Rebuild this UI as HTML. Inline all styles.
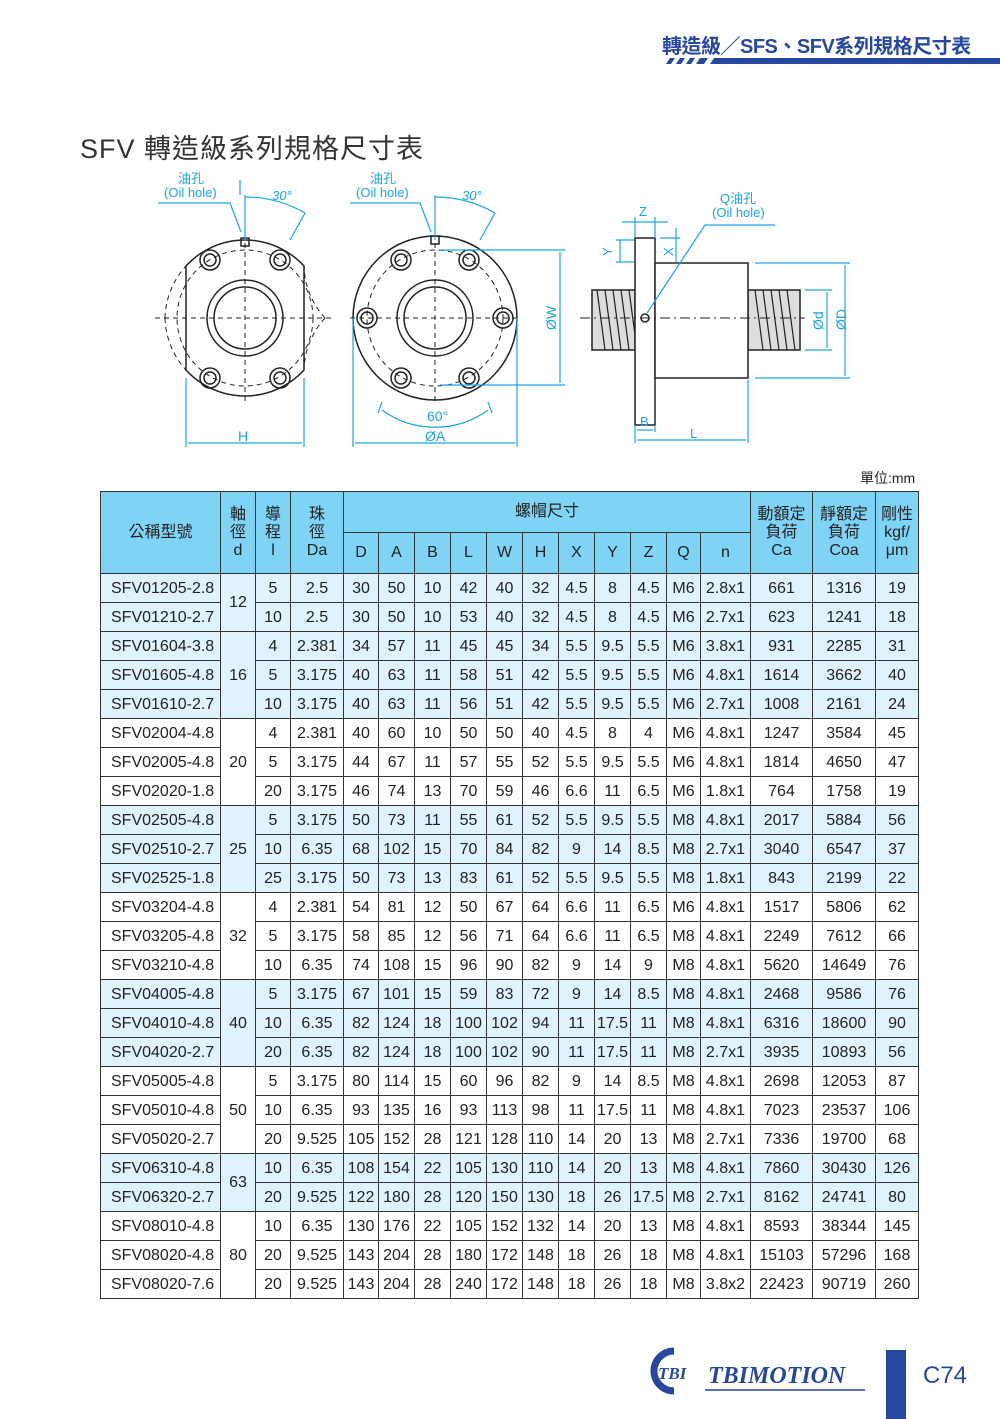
<!DOCTYPE html>
<html><head><meta charset="utf-8"><style>
body{margin:0;width:1000px;height:1419px;background:#fff;position:relative;overflow:hidden;font-family:"Liberation Sans","Noto Sans CJK TC",sans-serif;color:#222}
.abs{position:absolute}
table{position:absolute;left:100px;top:491px;border-collapse:collapse;table-layout:fixed;font-size:16px}
td{border:1.5px solid #333;text-align:center;padding:0;height:28px;line-height:27px;white-space:nowrap}
thead td{background:#7fd3f5;line-height:18px;height:40px}
tr.b td{background:#dff3fc}
td.m{text-align:left;padding-left:10px}
</style></head><body>
<div class="abs" style="left:662px;top:30px;font-size:20px;color:#2747a0;font-weight:bold;letter-spacing:-0.5px">轉造級／SFS、SFV系列規格尺寸表</div>
<svg class="abs" style="left:0;top:0" width="1000" height="70">
<g fill="#2747a0"><polygon points="666,64 670,58 675,58 671,64"/><polygon points="676,64 680,58 685,58 681,64"/><polygon points="686,64 690,58 695,58 691,64"/><polygon points="696,64 700,58 708,58 704,64"/><polygon points="710,64 714,58 1000,58 1000,64"/></g>
</svg>
<div class="abs" style="left:80px;top:127px;font-size:27px;color:#333;letter-spacing:1px">SFV 轉造級系列規格尺寸表</div>
<svg class="abs" style="left:0;top:160px" width="1000" height="300" viewBox="0 160 1000 300" font-family="Liberation Sans,Noto Sans CJK TC,sans-serif">
<g stroke="#222" fill="none" stroke-width="1.5">
<path d="M186,266 A80,80 0 0 1 304,266 L304,370 A80,80 0 0 1 186,370 Z" fill="#fff"/>
<circle cx="245" cy="318" r="38"/><circle cx="245" cy="318" r="31"/>
<g stroke-dasharray="5,4" stroke-width="1"><circle cx="245" cy="318" r="68"/><path d="M165,318 A80,80 0 0 0 186,370 M165,318 A80,80 0 0 1 186,266 M325,318 A80,80 0 0 0 304,370 M325,318 A80,80 0 0 1 304,266"/><line x1="155" y1="318" x2="335" y2="318"/><line x1="245" y1="225" x2="245" y2="405"/></g>
<g><circle cx="210" cy="260" r="10"/><circle cx="210" cy="260" r="6"/><circle cx="280" cy="260" r="10"/><circle cx="280" cy="260" r="6"/><circle cx="210" cy="378" r="10"/><circle cx="210" cy="378" r="6"/><circle cx="280" cy="378" r="10"/><circle cx="280" cy="378" r="6"/></g>
<rect x="241" y="238" width="8" height="8"/>
<circle cx="435" cy="318" r="82" fill="#fff"/>
<circle cx="435" cy="318" r="38"/><circle cx="435" cy="318" r="31"/>
<g stroke-dasharray="5,4" stroke-width="1"><circle cx="435" cy="318" r="68"/><line x1="350" y1="318" x2="520" y2="318"/><line x1="435" y1="225" x2="435" y2="405"/></g>
<circle cx="367" cy="318" r="10"/><circle cx="367" cy="318" r="6"/><circle cx="503" cy="318" r="10"/><circle cx="503" cy="318" r="6"/>
<circle cx="401" cy="260" r="10"/><circle cx="401" cy="260" r="6"/><circle cx="469" cy="260" r="10"/><circle cx="469" cy="260" r="6"/>
<circle cx="401" cy="378" r="10"/><circle cx="401" cy="378" r="6"/><circle cx="469" cy="378" r="10"/><circle cx="469" cy="378" r="6"/>
<rect x="431" y="236" width="8" height="8"/>
<rect x="592" y="290" width="43" height="60" fill="#ddd"/><rect x="748" y="290" width="52" height="60" fill="#ddd"/>
<g stroke-width="1.2"><path d="M597,290 l8,60 M605,290 l8,60 M613,290 l8,60 M621,290 l8,60 M629,290 l6,45 M755,290 l8,60 M763,290 l8,60 M771,290 l8,60 M779,290 l8,60 M787,290 l8,60"/></g>
<rect x="635" y="238" width="20" height="187" fill="#fff"/>
<rect x="655" y="263" width="93" height="115" fill="#fff"/>
<circle cx="645" cy="318" r="4"/>
<line x1="580" y1="318" x2="805" y2="318" stroke-dasharray="10,4,2,4" stroke-width="1"/>
</g>
<g stroke="#1aa6dd" fill="none" stroke-width="1.2">
<path d="M158,203 L230,203 L241,232"/><path d="M240,195 L240,180"/>
<line x1="245" y1="195" x2="245" y2="240"/><path d="M245,197 A120,120 0 0 1 305,213"/><line x1="305" y1="213" x2="290" y2="240"/>
<path d="M350,203 L420,203 L431,232"/><line x1="435" y1="195" x2="435" y2="240"/><path d="M435,197 A120,120 0 0 1 495,213"/><line x1="495" y1="213" x2="480" y2="240"/>
<path d="M382,410 A90,90 0 0 0 488,410"/><line x1="382" y1="402" x2="378" y2="413"/><line x1="488" y1="402" x2="492" y2="413"/>
<line x1="186" y1="378" x2="186" y2="447"/><line x1="304" y1="378" x2="304" y2="447"/><line x1="188" y1="443" x2="302" y2="443"/>
<line x1="353" y1="318" x2="353" y2="447"/><line x1="517" y1="318" x2="517" y2="447"/><line x1="355" y1="443" x2="515" y2="443"/>
<line x1="440" y1="250" x2="565" y2="250"/><line x1="440" y1="385" x2="565" y2="385"/><line x1="560" y1="252" x2="560" y2="383"/>
<path d="M775,225 L705,225 L647,313"/>
<line x1="622" y1="222" x2="668" y2="222"/><line x1="635" y1="217" x2="635" y2="238"/><line x1="655" y1="217" x2="655" y2="238"/>
<line x1="616" y1="240" x2="634" y2="240"/><line x1="616" y1="262" x2="634" y2="262"/><line x1="620" y1="240" x2="620" y2="262"/>
<line x1="676" y1="228" x2="676" y2="263"/><line x1="660" y1="238" x2="680" y2="238"/>
<line x1="755" y1="263" x2="850" y2="263"/><line x1="755" y1="378" x2="850" y2="378"/><line x1="845" y1="265" x2="845" y2="376"/>
<line x1="805" y1="290" x2="832" y2="290"/><line x1="805" y1="350" x2="832" y2="350"/><line x1="827" y1="292" x2="827" y2="348"/>
<line x1="635" y1="425" x2="635" y2="443"/><line x1="655" y1="425" x2="655" y2="432"/><line x1="637" y1="430" x2="653" y2="430"/>
<line x1="748" y1="380" x2="748" y2="443"/><line x1="637" y1="440" x2="746" y2="440"/>
</g>
<g fill="#1aa6dd" font-size="13">
<text x="178" y="183">油孔</text><text x="164" y="197">(Oil hole)</text><text x="272" y="200" font-style="italic">30°</text>
<text x="370" y="183">油孔</text><text x="356" y="197">(Oil hole)</text><text x="462" y="200" font-style="italic">30°</text>
<text x="427" y="421" font-size="14">60°</text><text x="425" y="441" font-size="14">ØA</text><text x="238" y="441" font-size="14">H</text>
<text x="0" y="0" font-size="14" transform="translate(556,330) rotate(-90)">ØW</text>
<text x="720" y="203">Q油孔</text><text x="712" y="217">(Oil hole)</text>
<text x="639" y="216">Z</text><text x="0" y="0" transform="translate(612,256) rotate(-90)">Y</text><text x="0" y="0" transform="translate(673,256) rotate(-90)">X</text>
<text x="0" y="0" transform="translate(823,330) rotate(-90)" font-size="14">Ød</text><text x="0" y="0" transform="translate(846,330) rotate(-90)" font-size="14">ØD</text>
<text x="640" y="426">B</text><text x="690" y="438">L</text>
</g>
</svg>
<div class="abs" style="left:860px;top:468px;font-size:14px">單位:mm</div>
<table>
<colgroup><col style="width:120px"><col style="width:35px"><col style="width:35px"><col style="width:53px"><col style="width:35px"><col style="width:36px"><col style="width:36px"><col style="width:36px"><col style="width:36px"><col style="width:36px"><col style="width:36px"><col style="width:36px"><col style="width:36px"><col style="width:34px"><col style="width:50px"><col style="width:62px"><col style="width:63px"><col style="width:43px"></colgroup>
<thead>
<tr><td rowspan="2">公稱型號</td><td rowspan="2">軸<br>徑<br>d</td><td rowspan="2">導<br>程<br>l</td><td rowspan="2">珠<br>徑<br>Da</td><td colspan="11">螺帽尺寸</td><td rowspan="2">動額定<br>負荷<br>Ca</td><td rowspan="2">靜額定<br>負荷<br>Coa</td><td rowspan="2">剛性<br>kgf/<br>μm</td></tr>
<tr><td>D</td><td>A</td><td>B</td><td>L</td><td>W</td><td>H</td><td>X</td><td>Y</td><td>Z</td><td>Q</td><td>n</td></tr>
</thead>
<tbody>
<tr class="b"><td class="m">SFV01205-2.8</td><td rowspan="2">12</td><td>5</td><td>2.5</td><td>30</td><td>50</td><td>10</td><td>42</td><td>40</td><td>32</td><td>4.5</td><td>8</td><td>4.5</td><td>M6</td><td>2.8x1</td><td>661</td><td>1316</td><td>19</td></tr>
<tr class="b"><td class="m">SFV01210-2.7</td><td>10</td><td>2.5</td><td>30</td><td>50</td><td>10</td><td>53</td><td>40</td><td>32</td><td>4.5</td><td>8</td><td>4.5</td><td>M6</td><td>2.7x1</td><td>623</td><td>1241</td><td>18</td></tr>
<tr class="b"><td class="m">SFV01604-3.8</td><td rowspan="3">16</td><td>4</td><td>2.381</td><td>34</td><td>57</td><td>11</td><td>45</td><td>45</td><td>34</td><td>5.5</td><td>9.5</td><td>5.5</td><td>M6</td><td>3.8x1</td><td>931</td><td>2285</td><td>31</td></tr>
<tr class="b"><td class="m">SFV01605-4.8</td><td>5</td><td>3.175</td><td>40</td><td>63</td><td>11</td><td>58</td><td>51</td><td>42</td><td>5.5</td><td>9.5</td><td>5.5</td><td>M6</td><td>4.8x1</td><td>1614</td><td>3662</td><td>40</td></tr>
<tr class="b"><td class="m">SFV01610-2.7</td><td>10</td><td>3.175</td><td>40</td><td>63</td><td>11</td><td>56</td><td>51</td><td>42</td><td>5.5</td><td>9.5</td><td>5.5</td><td>M6</td><td>2.7x1</td><td>1008</td><td>2161</td><td>24</td></tr>
<tr><td class="m">SFV02004-4.8</td><td rowspan="3">20</td><td>4</td><td>2.381</td><td>40</td><td>60</td><td>10</td><td>50</td><td>50</td><td>40</td><td>4.5</td><td>8</td><td>4</td><td>M6</td><td>4.8x1</td><td>1247</td><td>3584</td><td>45</td></tr>
<tr><td class="m">SFV02005-4.8</td><td>5</td><td>3.175</td><td>44</td><td>67</td><td>11</td><td>57</td><td>55</td><td>52</td><td>5.5</td><td>9.5</td><td>5.5</td><td>M6</td><td>4.8x1</td><td>1814</td><td>4650</td><td>47</td></tr>
<tr><td class="m">SFV02020-1.8</td><td>20</td><td>3.175</td><td>46</td><td>74</td><td>13</td><td>70</td><td>59</td><td>46</td><td>6.6</td><td>11</td><td>6.5</td><td>M6</td><td>1.8x1</td><td>764</td><td>1758</td><td>19</td></tr>
<tr class="b"><td class="m">SFV02505-4.8</td><td rowspan="3">25</td><td>5</td><td>3.175</td><td>50</td><td>73</td><td>11</td><td>55</td><td>61</td><td>52</td><td>5.5</td><td>9.5</td><td>5.5</td><td>M8</td><td>4.8x1</td><td>2017</td><td>5884</td><td>56</td></tr>
<tr class="b"><td class="m">SFV02510-2.7</td><td>10</td><td>6.35</td><td>68</td><td>102</td><td>15</td><td>70</td><td>84</td><td>82</td><td>9</td><td>14</td><td>8.5</td><td>M8</td><td>2.7x1</td><td>3040</td><td>6547</td><td>37</td></tr>
<tr class="b"><td class="m">SFV02525-1.8</td><td>25</td><td>3.175</td><td>50</td><td>73</td><td>13</td><td>83</td><td>61</td><td>52</td><td>5.5</td><td>9.5</td><td>5.5</td><td>M8</td><td>1.8x1</td><td>843</td><td>2199</td><td>22</td></tr>
<tr><td class="m">SFV03204-4.8</td><td rowspan="3">32</td><td>4</td><td>2.381</td><td>54</td><td>81</td><td>12</td><td>50</td><td>67</td><td>64</td><td>6.6</td><td>11</td><td>6.5</td><td>M6</td><td>4.8x1</td><td>1517</td><td>5806</td><td>62</td></tr>
<tr><td class="m">SFV03205-4.8</td><td>5</td><td>3.175</td><td>58</td><td>85</td><td>12</td><td>56</td><td>71</td><td>64</td><td>6.6</td><td>11</td><td>6.5</td><td>M8</td><td>4.8x1</td><td>2249</td><td>7612</td><td>66</td></tr>
<tr><td class="m">SFV03210-4.8</td><td>10</td><td>6.35</td><td>74</td><td>108</td><td>15</td><td>96</td><td>90</td><td>82</td><td>9</td><td>14</td><td>9</td><td>M8</td><td>4.8x1</td><td>5620</td><td>14649</td><td>76</td></tr>
<tr class="b"><td class="m">SFV04005-4.8</td><td rowspan="3">40</td><td>5</td><td>3.175</td><td>67</td><td>101</td><td>15</td><td>59</td><td>83</td><td>72</td><td>9</td><td>14</td><td>8.5</td><td>M8</td><td>4.8x1</td><td>2468</td><td>9586</td><td>76</td></tr>
<tr class="b"><td class="m">SFV04010-4.8</td><td>10</td><td>6.35</td><td>82</td><td>124</td><td>18</td><td>100</td><td>102</td><td>94</td><td>11</td><td>17.5</td><td>11</td><td>M8</td><td>4.8x1</td><td>6316</td><td>18600</td><td>90</td></tr>
<tr class="b"><td class="m">SFV04020-2.7</td><td>20</td><td>6.35</td><td>82</td><td>124</td><td>18</td><td>100</td><td>102</td><td>90</td><td>11</td><td>17.5</td><td>11</td><td>M8</td><td>2.7x1</td><td>3935</td><td>10893</td><td>56</td></tr>
<tr><td class="m">SFV05005-4.8</td><td rowspan="3">50</td><td>5</td><td>3.175</td><td>80</td><td>114</td><td>15</td><td>60</td><td>96</td><td>82</td><td>9</td><td>14</td><td>8.5</td><td>M8</td><td>4.8x1</td><td>2698</td><td>12053</td><td>87</td></tr>
<tr><td class="m">SFV05010-4.8</td><td>10</td><td>6.35</td><td>93</td><td>135</td><td>16</td><td>93</td><td>113</td><td>98</td><td>11</td><td>17.5</td><td>11</td><td>M8</td><td>4.8x1</td><td>7023</td><td>23537</td><td>106</td></tr>
<tr><td class="m">SFV05020-2.7</td><td>20</td><td>9.525</td><td>105</td><td>152</td><td>28</td><td>121</td><td>128</td><td>110</td><td>14</td><td>20</td><td>13</td><td>M8</td><td>2.7x1</td><td>7336</td><td>19700</td><td>68</td></tr>
<tr class="b"><td class="m">SFV06310-4.8</td><td rowspan="2">63</td><td>10</td><td>6.35</td><td>108</td><td>154</td><td>22</td><td>105</td><td>130</td><td>110</td><td>14</td><td>20</td><td>13</td><td>M8</td><td>4.8x1</td><td>7860</td><td>30430</td><td>126</td></tr>
<tr class="b"><td class="m">SFV06320-2.7</td><td>20</td><td>9.525</td><td>122</td><td>180</td><td>28</td><td>120</td><td>150</td><td>130</td><td>18</td><td>26</td><td>17.5</td><td>M8</td><td>2.7x1</td><td>8162</td><td>24741</td><td>80</td></tr>
<tr><td class="m">SFV08010-4.8</td><td rowspan="3">80</td><td>10</td><td>6.35</td><td>130</td><td>176</td><td>22</td><td>105</td><td>152</td><td>132</td><td>14</td><td>20</td><td>13</td><td>M8</td><td>4.8x1</td><td>8593</td><td>38344</td><td>145</td></tr>
<tr><td class="m">SFV08020-4.8</td><td>20</td><td>9.525</td><td>143</td><td>204</td><td>28</td><td>180</td><td>172</td><td>148</td><td>18</td><td>26</td><td>18</td><td>M8</td><td>4.8x1</td><td>15103</td><td>57296</td><td>168</td></tr>
<tr><td class="m">SFV08020-7.6</td><td>20</td><td>9.525</td><td>143</td><td>204</td><td>28</td><td>240</td><td>172</td><td>148</td><td>18</td><td>26</td><td>18</td><td>M8</td><td>3.8x2</td><td>22423</td><td>90719</td><td>260</td></tr>
</tbody></table>
<svg class="abs" style="left:640px;top:1345px" width="240" height="50">
<path d="M34,6 A20,20 0 1 0 34,46" fill="none" stroke="#2747a0" stroke-width="7"/>
<text x="18" y="34" font-family="Liberation Serif,serif" font-style="italic" font-weight="bold" font-size="17" fill="#2747a0">TBI</text>
<text x="68" y="38" font-family="Liberation Serif,serif" font-style="italic" font-weight="bold" font-size="24" fill="#2747a0">TBIMOTION</text>
<line x1="65" y1="45" x2="225" y2="45" stroke="#2747a0" stroke-width="1.5"/>
</svg>
<div class="abs" style="left:886px;top:1350px;width:20px;height:69px;background:#2747a0"></div>
<div class="abs" style="left:923px;top:1362px;font-size:24px;color:#2747a0">C74</div>
</body></html>
